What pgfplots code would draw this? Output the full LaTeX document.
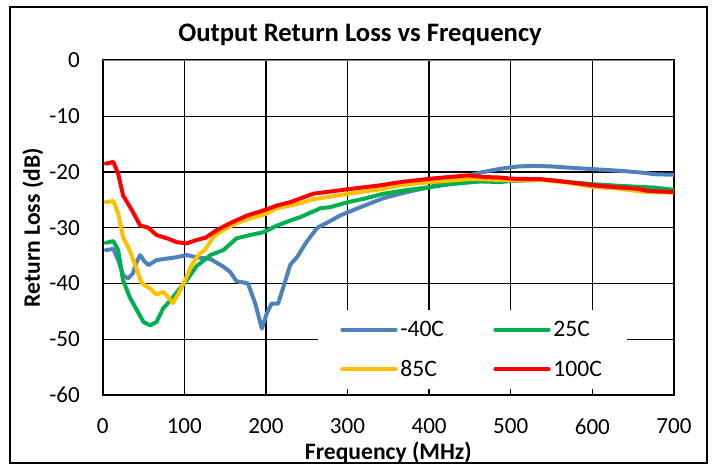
\documentclass[border=0pt]{standalone}
\usepackage{fontspec}
\setmainfont{Carlito}
\usepackage{pgfplots}
\pgfplotsset{compat=1.18}

\definecolor{cblue}{HTML}{4F81BD}
\definecolor{cgreen}{HTML}{00B050}
\definecolor{corange}{HTML}{FFC000}
\definecolor{cred}{HTML}{FF0000}

\begin{document}
\begin{tikzpicture}
\useasboundingbox (0,0) rectangle (534.75pt,348.75pt);
\draw[line width=1.5pt] (7.5pt,1.5pt) rectangle (530.25pt,343.5pt);
\node[anchor=base, font=\fontsize{20}{24}\selectfont\bfseries] at (270pt,317.5pt) {Output Return Loss vs Frequency};

\begin{axis}[
    at={(77pt,52.5pt)}, anchor=south west,
    scale only axis, width=428.5pt, height=250.9pt,
    xmin=0, xmax=700, ymin=-60, ymax=0,
    xtick={0,100,...,700}, ytick={-60,-50,...,0},
    major tick length=0pt,
    grid=major,
    major grid style={black, line width=1.1pt},
    axis line style={black, line width=1.5pt},
    ticklabel style={font=\fontsize{17.3}{20}\selectfont, inner sep=1pt},
    /pgf/number format/assume math mode=true,
    xticklabel style={yshift=-16.5pt},
    yticklabel style={xshift=-16pt},
    xlabel={\bfseries Frequency (MHz)},
    ylabel={\bfseries Return Loss (dB)},
    label style={font=\fontsize{17.7}{20}\selectfont, inner sep=0pt},
    xlabel style={at={(axis description cs:0.5,-0.172)}, anchor=center},
    ylabel style={at={(axis description cs:-0.122,0.5)}, anchor=center},
    legend columns=2,
    legend cell align=left,
    legend image code/.code={\draw[#1] (0pt,0pt) -- (40pt,0pt);},
    legend style={at={(axis description cs:0.377,0.254)}, anchor=north west,
        draw=none, fill=white, inner xsep=16.5pt, inner ysep=6pt, row sep=12.5pt,
        font=\fontsize{17.7}{20}\selectfont,
        /tikz/every even column/.append style={column sep=35pt}},
    every axis plot/.append style={line width=3pt, line join=round, line cap=round},
]
\addplot[cblue] coordinates {
(4,-34.0) (13,-33.8) (19,-35.8) (25,-38.5) (31,-39.1) (37,-38.2) (42,-36.0)
(46,-34.9) (51,-36.0) (56,-36.7) (66,-35.8) (80,-35.5) (90,-35.3) (103,-34.9)
(115,-35.3) (132,-35.6) (148,-37.0) (156,-37.9) (164,-39.6) (172,-39.8)
(178,-40.0) (187,-43.6) (195,-48.1) (201,-45.4) (207,-43.6) (215,-43.6)
(224,-39.4) (230,-36.6) (238,-35.3) (250,-32.5) (263,-30.0) (280,-28.7)
(291,-27.8) (301,-27.2) (316,-26.3) (330,-25.5) (344,-24.7) (370,-23.7)
(401,-22.7) (425,-21.6) (447,-20.7) (463,-20.1) (488,-19.4) (510,-19.0)
(528,-18.9) (550,-19.0) (569,-19.2) (602,-19.5) (635,-19.8) (660,-20.1)
(676,-20.4) (700,-20.5)
};
\addlegendentry{-40C}
\addplot[cgreen] coordinates {
(4,-32.7) (13,-32.4) (19,-34.0) (25,-39.4) (33,-42.4) (42,-44.8) (50,-46.9)
(58,-47.5) (66,-46.9) (74,-44.5) (85,-42.7) (93,-41.2) (103,-39.4) (115,-36.9)
(132,-34.9) (148,-34.0) (164,-31.9) (181,-31.3) (197,-30.8) (214,-29.6)
(230,-28.7) (242,-28.1) (267,-26.5) (279,-26.3) (301,-25.4) (320,-24.8)
(344,-23.9) (370,-23.3) (402,-22.7) (425,-22.2) (447,-21.9) (463,-21.7)
(488,-21.8) (500,-21.6) (545,-21.4) (570,-21.8) (602,-22.2) (635,-22.5)
(676,-22.8) (700,-23.2)
};
\addlegendentry{25C}
\addplot[corange] coordinates {
(4,-25.4) (13,-25.2) (19,-27.4) (25,-31.7) (33,-34.0) (42,-37.6) (48,-40.0)
(58,-40.9) (66,-42.0) (74,-41.5) (80,-42.4) (86,-43.5) (93,-41.8) (101,-39.4)
(109,-36.7) (117,-34.9) (125,-34.0) (136,-31.6) (148,-30.4) (164,-29.2)
(181,-28.3) (197,-27.7) (214,-26.5) (230,-26.0) (242,-25.6) (258,-24.9)
(301,-23.9) (340,-23.1) (365,-22.4) (402,-21.8) (447,-21.3) (463,-21.3)
(500,-21.5) (537,-21.4) (569,-21.9) (602,-22.7) (626,-22.9) (667,-23.6)
(700,-23.7)
};
\addlegendentry{85C}
\addplot[cred] coordinates {
(4,-18.5) (13,-18.2) (19,-20.3) (25,-24.2) (36,-26.9) (46,-29.6) (56,-30.0)
(66,-31.3) (79,-31.9) (91,-32.6) (103,-32.8) (115,-32.2) (126,-31.8)
(140,-30.4) (156,-29.2) (177,-27.8) (197,-26.9) (214,-26.0) (230,-25.4)
(258,-23.9) (300,-23.1) (340,-22.4) (365,-21.8) (402,-21.2) (447,-20.6)
(467,-20.9) (488,-21.0) (500,-21.2) (537,-21.3) (569,-21.8) (602,-22.4)
(626,-22.7) (655,-23.0) (668,-23.4) (700,-23.6)
};
\addlegendentry{100C}
\draw[gray, line width=1.5pt] (rel axis cs:0,1) -- (rel axis cs:1,1);
\end{axis}
\end{tikzpicture}
\end{document}
